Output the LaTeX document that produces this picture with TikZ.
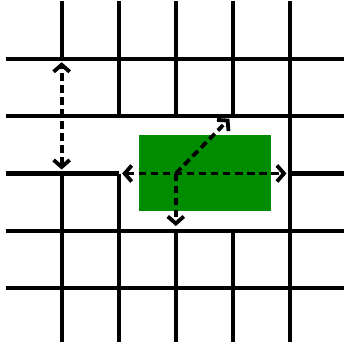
\documentclass[tikz,border=0pt]{standalone}
\usepackage{amsmath}
\usepackage{tikz}
\usetikzlibrary{arrows.meta}
\definecolor{boxgreen}{RGB}{0,140,0}
\tikzset{
  gridline/.style={line width=2pt,black},
  movearrow/.style={line width=1.9pt,dash pattern=on 3.8pt off 2.2pt,
    -{Straight Barb[length=3.5pt,width=8pt]}},
  bothways/.style={movearrow,{Straight Barb[length=3.5pt,width=8pt]}-{Straight Barb[length=3.5pt,width=8pt]}}
}
\begin{document}
\begin{tikzpicture}
\useasboundingbox (-1.08,-1.04) rectangle (4.97,5.04);
% full rows and column
\draw[gridline] (-0.98,0)--(4.94,0);
\draw[gridline] (-0.98,1)--(4.94,1);
\draw[gridline] (-0.98,3)--(4.94,3);
\draw[gridline] (-0.98,4)--(4.94,4);
\draw[gridline] (4,-0.96)--(4,5.02);
% broken row
\draw[gridline] (-0.98,2)--(1,2);
\draw[gridline] (4,2)--(4.94,2);
% broken columns
\draw[gridline] (0,5.02)--(0,4);
\draw[gridline] (0,2)--(0,-0.96);
\draw[gridline] (1,5.02)--(1,3);
\draw[gridline] (1,2)--(1,-0.96);
\draw[gridline] (2,5.02)--(2,3);
\draw[gridline] (2,1)--(2,-0.96);
\draw[gridline] (3,5.02)--(3,3);
\draw[gridline] (3,1)--(3,-0.96);
% the block
\fill[boxgreen] (1.35,1.35) rectangle (3.67,2.67);
\coordinate (c) at (2,2);
\coordinate (ne) at (2.94,2.96);
\coordinate (s) at (2,1.08);
\coordinate (w) at (1.06,2);
\coordinate (e) at (3.94,2);
\coordinate (top) at (0,3.95);
\coordinate (bot) at (0,2.07);
\draw[bothways] (w)--(e);
\draw[movearrow] (c)--(ne);
\draw[movearrow] (c)--(s);
\draw[bothways] (bot)--(top);
\end{tikzpicture}
\end{document}
